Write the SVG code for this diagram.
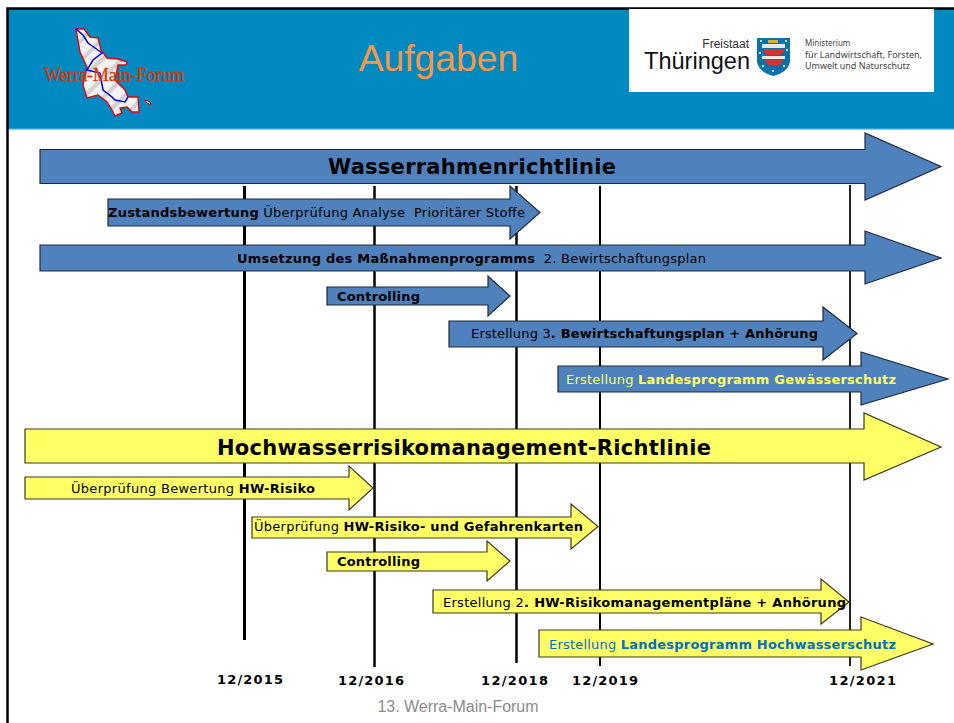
<svg xmlns="http://www.w3.org/2000/svg" width="954" height="723" viewBox="0 0 954 723">
<style>
.b{fill:#4f81bd;stroke:#1f2a3a;stroke-width:1.2}
.y{fill:#ffff66;stroke:#3a3a20;stroke-width:1.2}
text{font-family:"DejaVu Sans",Verdana,sans-serif;fill:#000}
.t{font-size:13px}
.d{font-size:13px;font-weight:700}
.w{font-weight:700}
.v{stroke:#000;fill:none}
</style>
<defs>
<pattern id="hatch" width="14" height="14" patternUnits="userSpaceOnUse" patternTransform="rotate(-45)"><rect width="14" height="14" fill="#f4f4f4"/><rect width="14" height="4" fill="#d2d2d2"/></pattern>
</defs>
<rect width="954" height="723" fill="#fff"/>
<g id="header">
<rect x="7" y="8" width="947" height="121" fill="#0189c1"/>
<rect x="7" y="128" width="947" height="1.500" fill="#2a9fd0"/>
<path d="M7.500 723V8.500H954" fill="none" stroke="#000" stroke-width="2.500"/>
<text x="438.500" y="71" text-anchor="middle" style="font-family:'Liberation Sans',Arial,sans-serif;font-size:37.300px;fill:#f79646">Aufgaben</text>
</g>
<g id="logo-werra">
<path d="M76 29L84 29L90 37L98 38L101 50L107 58L118 59L127 62L126 65L118 65L115 80L125 90L128 97L138 97L139 112L132 112L127 107L120 108L122 113L115 116L112 110L107 102L98 95L87 98L83 85L87 67L80 52Z" fill="url(#hatch)" stroke="#e8000c" stroke-width="1.400"/>
<path d="M145 100L150 102L151 105L147 103Z" fill="#f0f0f0" stroke="#e8000c"/>
<path d="M76 29L83 35L88 43L95 48L102 53L93 60L87 70L100 73L103 90L112 97L115 100L125 102L128 97" fill="none" stroke="#0000e6" stroke-width="1.500"/>
<text x="44" y="81" style="font-family:'Liberation Serif','Times New Roman',serif;font-size:18px;fill:#d23a08;stroke:#d23a08;stroke-width:.3" textLength="140" lengthAdjust="spacingAndGlyphs">Werra-Main-Forum</text>
</g>
<g id="logo-thueringen">
<rect x="629" y="9" width="305" height="83" fill="#fff"/>
<text x="749" y="48" text-anchor="end" style="font-family:'Liberation Sans',Arial,sans-serif;font-size:12px;fill:#333">Freistaat</text>
<text x="644" y="69" style="font-family:'Liberation Sans',Arial,sans-serif;font-size:24px;fill:#111" textLength="106" lengthAdjust="spacingAndGlyphs">Thüringen</text>
<path d="M757 38H790V62Q788 72 773.500 76Q759 72 757 62Z" fill="#0a72a8"/>
<path d="M762 44h23v4h-23zM762 56h23v3h-23z" fill="#e8e8e8"/>
<path d="M764 49h20v3l-4 3h-12l-4-2zM765 60h18l-3 5h-12z" fill="#d6312c"/>
<path d="M768 40h10v3h-10z" fill="#d8b030"/>
<g fill="#fff"><circle cx="761" cy="41" r="1"/><circle cx="786" cy="41" r="1"/><circle cx="787" cy="50" r="1"/><circle cx="760" cy="53" r="1"/><circle cx="763" cy="66" r="1"/><circle cx="773" cy="71" r="1"/><circle cx="784" cy="66" r="1"/></g>
<text x="805" y="46" style="font-family:'Noto Sans',sans-serif;font-size:8px;fill:#444">Ministerium</text>
<text x="805" y="58" style="font-family:'Noto Sans',sans-serif;font-size:8.500px;fill:#444" textLength="117" lengthAdjust="spacingAndGlyphs">für Landwirtschaft, Forsten,</text>
<text x="805" y="69" style="font-family:'Noto Sans',sans-serif;font-size:8px;fill:#444" textLength="105" lengthAdjust="spacingAndGlyphs">Umwelt und Naturschutz</text>
</g>
<g id="connectors">
<line class="v" x1="244.500" y1="186" x2="244.500" y2="640" stroke-width="3"/>
<line class="v" x1="374.500" y1="186" x2="374.500" y2="667" stroke-width="2.500"/>
<line class="v" x1="516.500" y1="186" x2="516.500" y2="663" stroke-width="2.500"/>
<line class="v" x1="600" y1="186" x2="600" y2="666" stroke-width="2"/>
<line class="v" x1="850" y1="185" x2="850" y2="666" stroke-width="2" style="stroke:#222"/>
</g>
<g id="n1"><path class="b" d="M40 149.500H865V133L941 166.500L865 200V183.500H40Z"/><text x="328" y="174" class="w" font-size="21" textLength="288">Wasserrahmenrichtlinie</text></g>
<g id="n2"><path class="b" d="M108 199H510V186L540 212.500L510 239V226H108Z"/><text x="108" y="217" class="t" xml:space="preserve" textLength="417"><tspan font-weight="700">Zustandsbewertung</tspan> Überprüfung Analyse  Prioritärer Stoffe</text></g>
<g id="n3"><path class="b" d="M40 245H865V231L941 258L865 284V271H40Z"/><text x="237" y="263" class="t" xml:space="preserve" textLength="469"><tspan font-weight="700">Umsetzung des Maßnahmenprogramms</tspan>  2. Bewirtschaftungsplan</text></g>
<g id="n4"><path class="b" d="M327 287H488V276L510 296L488 316V305H327Z"/><text x="337" y="301" class="d" textLength="83">Controlling</text></g>
<g id="n5"><path class="b" d="M449 321H823V307L857 333.500L823 360V347H449Z"/><text x="471" y="338" class="t" textLength="347">Erstellung 3<tspan font-weight="700">. Bewirtschaftungsplan + Anhörung</tspan></text></g>
<g id="n6"><path class="b" d="M558 366H861V352L948 379L861 405V392H558Z"/><text x="566" y="384" class="t" style="fill:#ffff66" textLength="330">Erstellung <tspan font-weight="700">Landesprogramm Gewässerschutz</tspan></text></g>
<g id="n7"><path class="y" d="M25 429H864V413L941 447L864 480V463H25Z"/><text x="217" y="455" class="w" font-size="21" textLength="494">Hochwasserrisikomanagement-Richtlinie</text></g>
<g id="n8"><path class="y" d="M25 477H349V466L373 488L349 510V499H25Z"/><text x="71" y="493" class="t" textLength="244">Überprüfung Bewertung <tspan font-weight="700">HW-Risiko</tspan></text></g>
<g id="n9"><path class="y" d="M252 517H571V504L598 526.500L571 549V538H252Z"/><text x="254" y="531" class="t" textLength="329">Überprüfung <tspan font-weight="700">HW-Risiko- und Gefahrenkarten</tspan></text></g>
<g id="n10"><path class="y" d="M327 552H487V541L510 561L487 581V571H327Z"/><text x="337" y="566" class="d" textLength="83">Controlling</text></g>
<g id="n11"><path class="y" d="M433 590H821V579L849 602L821 624V613H433Z"/><text x="443" y="607" class="t" textLength="403">Erstellung 2<tspan font-weight="700">. HW-Risikomanagementpläne + Anhörung</tspan></text></g>
<g id="n12"><path class="y" d="M539 630H861V617L933 644L861 670V657H539Z"/><text x="549" y="649" class="t" style="fill:#0070c0" textLength="347">Erstellung <tspan font-weight="700">Landesprogramm Hochwasserschutz</tspan></text></g>
<g id="axis-labels">
<text x="217" y="684" class="d" textLength="66">12/2015</text>
<text x="338" y="685" class="d" textLength="66">12/2016</text>
<text x="481" y="685" class="d" textLength="67">12/2018</text>
<text x="572" y="685" class="d" textLength="66">12/2019</text>
<text x="829" y="685" class="d" textLength="67">12/2021</text>
</g>
<text x="458" y="712" text-anchor="middle" style="font-family:'Liberation Sans',Arial,sans-serif;font-size:16px;fill:#8b8b8b" textLength="161">13. Werra-Main-Forum</text>
</svg>
